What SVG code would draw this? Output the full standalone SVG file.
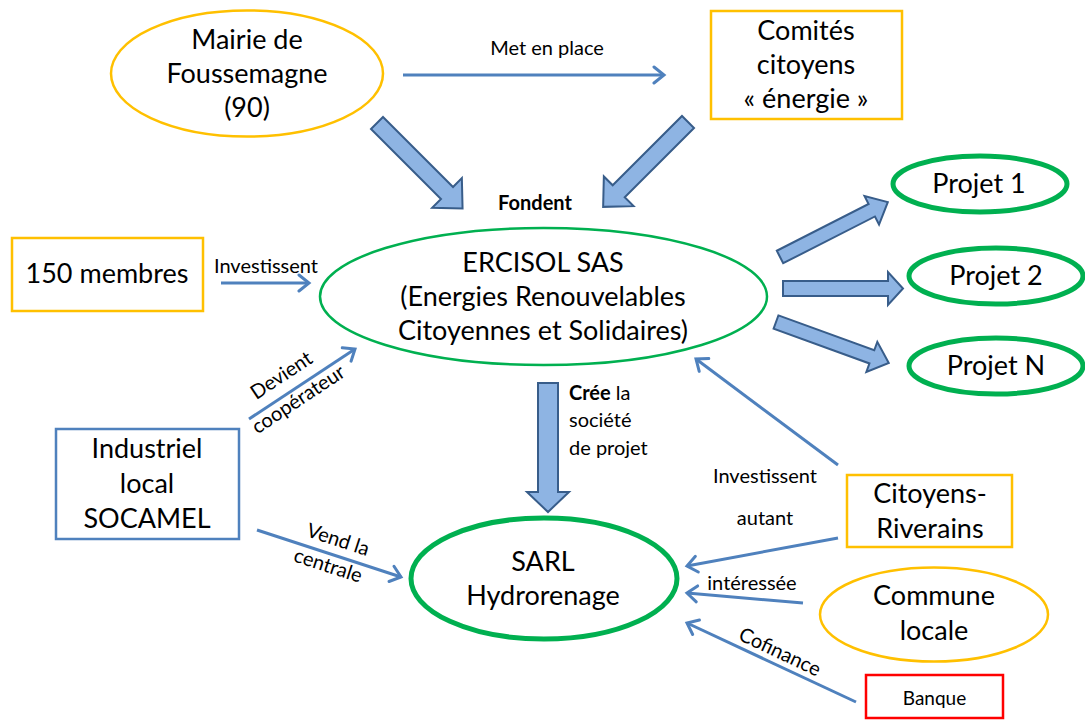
<svg xmlns="http://www.w3.org/2000/svg" width="1085" height="720" viewBox="0 0 1085 720">
<defs>
<style>
.t{font-family:Lato,"Open Sans","Liberation Sans",sans-serif;fill:#000;text-anchor:middle}
.big{font-size:27px}
.sm{font-size:20px}
.blk{fill:#8EB4E3;stroke:#385D8A;stroke-width:2;stroke-linejoin:miter}
.ln{fill:none;stroke:#4F81BD;stroke-width:3;marker-end:url(#ah)}
.or{fill:#fff;stroke:#FFC000;stroke-width:2.5}
.gr{fill:#fff;stroke:#00B050;stroke-width:2.5}
.gr5{fill:#fff;stroke:#00B050;stroke-width:5}
</style>
<marker id="ah" markerUnits="userSpaceOnUse" markerWidth="20" markerHeight="20" refX="13" refY="9" orient="auto" viewBox="0 0 20 18">
<path d="M3,1 L13,9 L3,17" fill="none" stroke="#4F81BD" stroke-width="3" stroke-linecap="round" stroke-linejoin="miter"/>
</marker>
</defs>
<rect width="1085" height="720" fill="#fff"/>

<g id="connectors">
<line class="ln" x1="403" y1="75" x2="664" y2="75"/>
<line class="ln" x1="221" y1="283" x2="309" y2="283"/>
<line class="ln" x1="249" y1="419" x2="355" y2="349"/>
<line class="ln" x1="257" y1="530" x2="401" y2="577"/>
<line class="ln" x1="838" y1="465" x2="696" y2="359"/>
<line class="ln" x1="838" y1="538" x2="687" y2="566"/>
<line class="ln" x1="803" y1="603" x2="687" y2="593"/>
<line class="ln" x1="856" y1="702" x2="687" y2="623"/>
<!-- block arrows -->
<polygon class="blk" transform="translate(377,123) rotate(45)" points="0,-8.5 99,-8.5 99,-21 121,0 99,21 99,8.5 0,8.5"/>
<polygon class="blk" transform="translate(688,122) rotate(135)" points="0,-8.5 98,-8.5 98,-21 120,0 98,21 98,8.5 0,8.5"/>
<polygon class="blk" transform="translate(548,383) rotate(90)" points="0,-10 109,-10 109,-21 129,0 109,21 109,10 0,10"/>
<polygon class="blk" transform="translate(780,257) rotate(-27)" points="0,-7 103,-7 103,-16 121,0 103,16 103,7 0,7"/>
<polygon class="blk" transform="translate(783,288.5)" points="0,-7.5 105,-7.5 105,-16.5 120,0 105,16.5 105,7.5 0,7.5"/>
<polygon class="blk" transform="translate(776,322) rotate(20)" points="0,-7 102,-7 102,-16 120,0 102,16 102,7 0,7"/>
<!-- labels -->
<text class="t sm" x="547" y="55">Met en place</text>
<text class="t sm" x="535" y="210" font-weight="bold">Fondent</text>
<text class="t sm" x="266" y="273">Investissent</text>
<text class="t sm" transform="translate(285,381) rotate(-33.6)">Devient</text>
<text class="t sm" transform="translate(302,405) rotate(-33.6)">coopérateur</text>
<text class="t sm" transform="translate(336,546) rotate(18)">Vend la</text>
<text class="t sm" transform="translate(326,572) rotate(18)">centrale</text>
<text class="t sm" x="569" y="400" style="text-anchor:start"><tspan font-weight="bold">Crée</tspan> la</text>
<text class="t sm" x="569" y="427" style="text-anchor:start">société</text>
<text class="t sm" x="569" y="455" style="text-anchor:start">de projet</text>
<text class="t sm" x="765" y="483">Investissent</text>
<text class="t sm" x="765" y="525">autant</text>
<text class="t sm" x="752" y="590">intéressée</text>
<text class="t sm" transform="translate(777,658) rotate(25.2)">Cofinance</text>
</g>

<g id="mairie">
<ellipse class="or" cx="247" cy="73.5" rx="136" ry="63"/>
<text class="t big" x="247" y="49">Mairie de</text>
<text class="t big" x="247" y="83">Foussemagne</text>
<text class="t big" x="247" y="117">(90)</text>
</g>
<g id="comites">
<rect class="or" x="711" y="11" width="191" height="108"/>
<text class="t big" x="806" y="40">Comités</text>
<text class="t big" x="806" y="74">citoyens</text>
<text class="t big" x="806" y="108">« énergie »</text>
</g>
<g id="ercisol">
<ellipse class="gr" cx="543.5" cy="296.5" rx="223.5" ry="68.5"/>
<text class="t big" x="543" y="272">ERCISOL SAS</text>
<text class="t big" x="543" y="306">(Energies Renouvelables</text>
<text class="t big" x="543" y="340">Citoyennes et Solidaires)</text>
</g>
<g id="projet1">
<ellipse class="gr5" cx="980" cy="184" rx="87" ry="28"/>
<text class="t big" x="979" y="193">Projet 1</text>
</g>
<g id="projet2">
<ellipse class="gr5" cx="996" cy="276" rx="87" ry="28"/>
<text class="t big" x="996" y="285">Projet 2</text>
</g>
<g id="projetN">
<ellipse class="gr5" cx="996" cy="366" rx="87" ry="28"/>
<text class="t big" x="996" y="375">Projet N</text>
</g>
<g id="membres">
<rect class="or" x="12" y="238" width="191" height="73"/>
<text class="t big" x="107" y="283">150 membres</text>
</g>
<g id="industriel">
<rect x="56" y="429" width="183" height="110" fill="#fff" stroke="#4F81BD" stroke-width="2.5"/>
<text class="t big" x="147" y="458">Industriel</text>
<text class="t big" x="147" y="493">local</text>
<text class="t big" x="147" y="528">SOCAMEL</text>
</g>
<g id="sarl">
<ellipse class="gr5" cx="544" cy="578.5" rx="133" ry="60.5"/>
<text class="t big" x="543" y="571">SARL</text>
<text class="t big" x="543" y="605">Hydrorenage</text>
</g>
<g id="citoyens">
<rect class="or" x="847" y="475" width="165" height="72"/>
<text class="t big" x="930" y="503">Citoyens-</text>
<text class="t big" x="930" y="538">Riverains</text>
</g>
<g id="commune">
<ellipse class="or" cx="934" cy="614.5" rx="114" ry="47"/>
<text class="t big" x="934" y="605">Commune</text>
<text class="t big" x="934" y="640">locale</text>
</g>
<g id="banque">
<rect x="866" y="675" width="137" height="43" fill="#fff" stroke="#FF0000" stroke-width="2.5"/>
<text class="t" x="934.5" y="705" style="font-size:19px">Banque</text>
</g>
</svg>
